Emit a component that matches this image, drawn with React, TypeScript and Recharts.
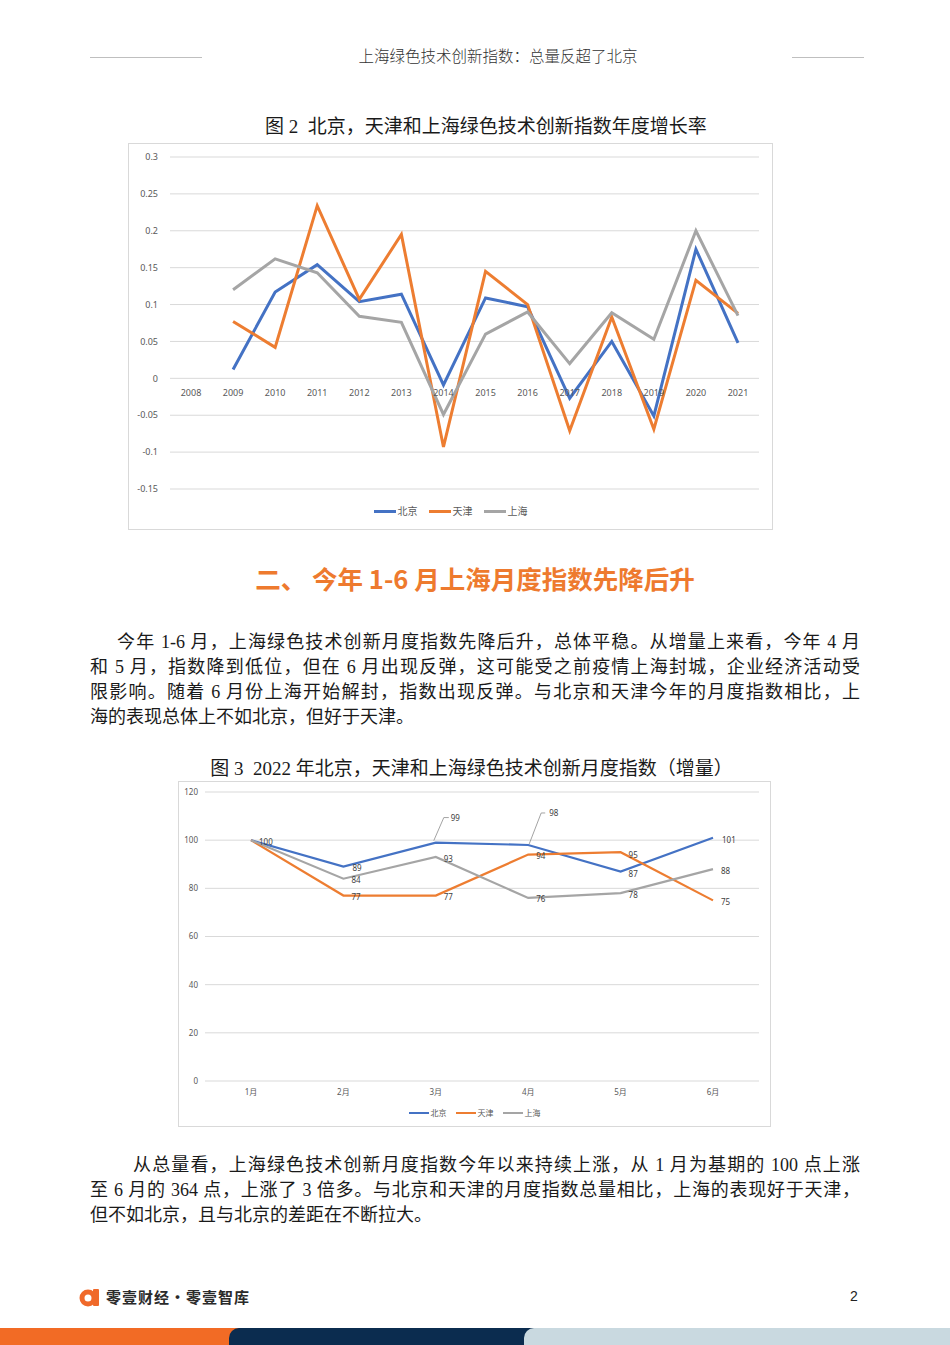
import { CartesianGrid, Legend, Line, LineChart, XAxis, YAxis } from "recharts";

// 图 2：年度增长率
const YEARS = ["2008", "2009", "2010", "2011", "2012", "2013", "2014", "2015", "2016", "2017", "2018", "2019", "2020", "2021"];
const BEIJING_GROWTH = [null, 0.012, 0.117, 0.154, 0.104, 0.114, -0.009, 0.109, 0.097, -0.027, 0.05, -0.051, 0.175, 0.048];
const TIANJIN_GROWTH = [null, 0.077, 0.042, 0.234, 0.107, 0.195, -0.093, 0.145, 0.1, -0.071, 0.083, -0.069, 0.133, 0.088];
const SHANGHAI_GROWTH = [null, 0.12, 0.162, 0.143, 0.084, 0.076, -0.049, 0.06, 0.09, 0.02, 0.089, 0.053, 0.2, 0.085];
const GROWTH_TICKS = [0.3, 0.25, 0.2, 0.15, 0.1, 0.05, 0, -0.05, -0.1, -0.15];

// 图 3：2022 年月度指数（增量）
const MONTHS = ["1月", "2月", "3月", "4月", "5月", "6月"];
const BEIJING_MONTHLY = [100, 89, 99, 98, 87, 101];
const TIANJIN_MONTHLY = [100, 77, 77, 94, 95, 75];
const SHANGHAI_MONTHLY = [100, 84, 93, 76, 78, 88];
const MONTHLY_TICKS = [0, 20, 40, 60, 80, 100, 120];

const SERIES_NAMES = ["北京", "天津", "上海"];

const BLUE = "#4472C4";
const ORANGE = "#ED7D31";
const GRAY = "#A5A5A5";

const growthData = YEARS.map((year, i) => ({
  year,
  beijing: BEIJING_GROWTH[i],
  tianjin: TIANJIN_GROWTH[i],
  shanghai: SHANGHAI_GROWTH[i],
}));

const monthlyData = MONTHS.map((month, i) => ({
  month,
  beijing: BEIJING_MONTHLY[i],
  tianjin: TIANJIN_MONTHLY[i],
  shanghai: SHANGHAI_MONTHLY[i],
}));

// label placement (px offsets from the point), null = label hidden
type Place = { dx: number; dy: number; leader?: number[][] } | null;
const R: Place = { dx: 8, dy: 1 };
const BEIJING_PLACES: Place[] = [
  R,
  { dx: 9, dy: 1 },
  { dx: 15, dy: -25, leader: [[-2, -2], [8, -25], [13, -25]] },
  { dx: 21, dy: -32, leader: [[1, -1], [13, -32], [17, -32]] },
  { dx: 8, dy: 2 },
  { dx: 9, dy: 2 },
];
const TIANJIN_PLACES: Place[] = [null, R, R, R, { dx: 8, dy: 2 }, R];
const SHANGHAI_PLACES: Place[] = [null, R, R, R, R, R];

const PARA1 = [
  "今年 1-6 月，上海绿色技术创新月度指数先降后升，总体平稳。从增量上来看，今年 4 月",
  "和 5 月，指数降到低位，但在 6 月出现反弹，这可能受之前疫情上海封城，企业经济活动受",
  "限影响。随着 6 月份上海开始解封，指数出现反弹。与北京和天津今年的月度指数相比，上",
  "海的表现总体上不如北京，但好于天津。",
];
const PARA2 = [
  "从总量看，上海绿色技术创新月度指数今年以来持续上涨，从 1 月为基期的 100 点上涨",
  "至 6 月的 364 点，上涨了 3 倍多。与北京和天津的月度指数总量相比，上海的表现好于天津，",
  "但不如北京，且与北京的差距在不断拉大。",
];

const G_W = 643;
const G_H = 385;
const G_TOP = 13;
const G_PLOT_H = 332;
const G_ZERO_Y = G_TOP + (G_PLOT_H * 0.3) / 0.45;

function YearTick({ x, payload }: any) {
  return (
    <text x={x} y={G_ZERO_Y + 14} textAnchor="middle" dominantBaseline="central" fontSize={9} fill="#595959">
      {payload.value}
    </text>
  );
}

function makePointLabel(places: Place[]) {
  return function PointLabel(props: any) {
    const { x, y, value, index } = props;
    const p = places[index];
    if (!p || x == null || y == null) return <g />;
    return (
      <g>
        {p.leader && (
          <polyline
            points={p.leader.map(([a, b]) => `${x + a},${y + b}`).join(" ")}
            fill="none"
            stroke="#8c8c8c"
            strokeWidth={0.8}
          />
        )}
        <text x={x + p.dx} y={y + p.dy} dominantBaseline="central" fontSize={8} fill="#404040">
          {value}
        </text>
      </g>
    );
  };
}

function LegendRow({ payload, swatch, thick, fontSize, gap, height }: any) {
  const items = [...(payload ?? [])].sort(
    (a: any, b: any) => SERIES_NAMES.indexOf(a.value) - SERIES_NAMES.indexOf(b.value)
  );
  return (
    <div
      style={{
        height,
        boxSizing: "border-box",
        paddingBottom: 4,
        display: "flex",
        justifyContent: "center",
        alignItems: "center",
        gap,
      }}
    >
      {items.map((entry: any) => (
        <span key={entry.value} style={{ display: "inline-flex", alignItems: "center" }}>
          <span style={{ display: "inline-block", width: swatch, height: thick, background: entry.color, marginRight: 2 }} />
          <span style={{ fontSize, color: "#595959", lineHeight: 1 }}>{entry.value}</span>
        </span>
      ))}
    </div>
  );
}

function Lines({ lines, top, indent }: { lines: string[]; top: number; indent: number }) {
  return (
    <div style={{ position: "absolute", left: 90, top, width: 770, fontSize: 18, color: "#1a1a1a" }}>
      {lines.map((line, i) => {
        const last = i === lines.length - 1;
        return (
          <div
            key={i}
            style={{
              height: 25,
              lineHeight: "25px",
              paddingLeft: i === 0 ? indent : 0,
              textAlign: "justify",
              textAlignLast: last ? "left" : "justify",
              whiteSpace: last ? "nowrap" : "normal",
            }}
          >
            {line}
          </div>
        );
      })}
    </div>
  );
}

export default function App() {
  const serif = "'Liberation Serif', 'Noto Sans CJK SC', serif";
  const chartFont = "'Noto Sans', 'Noto Sans CJK SC', sans-serif";
  return (
    <div style={{ position: "absolute", left: 0, top: 0, width: 950, height: 1345, background: "#fff", fontFamily: serif, overflow: "hidden" }}>
      {/* header */}
      <div style={{ position: "absolute", left: 90, top: 57, width: 112, height: 1, background: "#bfbfbf" }} />
      <div style={{ position: "absolute", left: 792, top: 57, width: 72, height: 1, background: "#bfbfbf" }} />
      <div
        style={{
          position: "absolute",
          left: 0,
          width: 996,
          top: 45,
          textAlign: "center",
          fontSize: 15.5,
          lineHeight: "20px",
          color: "#333",
          fontFamily: "'Noto Sans CJK SC', sans-serif",
          fontWeight: 300,
        }}
      >
        上海绿色技术创新指数：总量反超了北京
      </div>

      {/* figure 2 */}
      <div style={{ position: "absolute", left: 0, width: 972, top: 115, textAlign: "center", fontSize: 19, lineHeight: "24px", color: "#1a1a1a" }}>
        图 2 &nbsp;北京，天津和上海绿色技术创新指数年度增长率
      </div>
      <div
        style={{
          position: "absolute",
          left: 128,
          top: 143,
          width: 645,
          height: 387,
          boxSizing: "border-box",
          border: "1px solid #d9d9d9",
          fontFamily: chartFont,
        }}
      >
        <LineChart width={G_W} height={G_H} data={growthData} margin={{ top: G_TOP, right: 13, left: 0, bottom: 0 }}>
          <CartesianGrid vertical={false} stroke="#d9d9d9" />
          <XAxis
            dataKey="year"
            height={8}
            axisLine={false}
            tickLine={false}
            interval={0}
            padding={{ left: 21, right: 21 }}
            tick={<YearTick />}
          />
          <YAxis
            width={41}
            domain={[-0.15, 0.3]}
            ticks={GROWTH_TICKS}
            axisLine={false}
            tickLine={false}
            tickMargin={6}
            tick={{ fontSize: 9, fill: "#595959" }}
            tickFormatter={(v: number) => String(v)}
          />
          <Legend
            verticalAlign="bottom"
            wrapperStyle={{ left: 0, width: G_W }}
            content={(props: any) => <LegendRow {...props} swatch={22} thick={3} fontSize={10} gap={11} height={32} />}
          />
          <Line dataKey="beijing" name="北京" stroke={BLUE} strokeWidth={3} dot={false} isAnimationActive={false} />
          <Line dataKey="tianjin" name="天津" stroke={ORANGE} strokeWidth={3} dot={false} isAnimationActive={false} />
          <Line dataKey="shanghai" name="上海" stroke={GRAY} strokeWidth={3} dot={false} isAnimationActive={false} />
        </LineChart>
      </div>

      {/* section heading */}
      <div
        style={{
          position: "absolute",
          left: 0,
          width: 950,
          top: 561,
          textAlign: "center",
          fontSize: 25.5,
          lineHeight: "34px",
          fontWeight: 700,
          color: "#EE7A2E",
          fontFamily: "'Noto Sans CJK SC', sans-serif",
        }}
      >
        二、 今年 1-6 月上海月度指数先降后升
      </div>

      <Lines lines={PARA1} top={630} indent={27} />

      {/* figure 3 */}
      <div style={{ position: "absolute", left: 0, width: 943, top: 757, textAlign: "center", fontSize: 19, lineHeight: "24px", color: "#1a1a1a" }}>
        图 3 &nbsp;2022 年北京，天津和上海绿色技术创新月度指数（增量）
      </div>
      <div
        style={{
          position: "absolute",
          left: 178,
          top: 781,
          width: 593,
          height: 346,
          boxSizing: "border-box",
          border: "1px solid #d9d9d9",
          fontFamily: chartFont,
        }}
      >
        <LineChart width={591} height={344} data={monthlyData} margin={{ top: 10, right: 11, left: 0, bottom: 0 }}>
          <CartesianGrid vertical={false} stroke="#d9d9d9" />
          <XAxis
            dataKey="month"
            height={23}
            axisLine={false}
            tickLine={false}
            interval={0}
            padding={{ left: 46, right: 46 }}
            tick={{ fontSize: 8, fill: "#595959" }}
          />
          <YAxis
            width={26}
            domain={[0, 120]}
            ticks={MONTHLY_TICKS}
            axisLine={false}
            tickLine={false}
            tickMargin={1}
            tick={{ fontSize: 8, fill: "#595959" }}
          />
          <Legend
            verticalAlign="bottom"
            wrapperStyle={{ left: 0, width: 591 }}
            content={(props: any) => <LegendRow {...props} swatch={20} thick={2} fontSize={8} gap={9} height={22} />}
          />
          <Line dataKey="beijing" name="北京" stroke={BLUE} strokeWidth={2.2} dot={false} isAnimationActive={false} label={makePointLabel(BEIJING_PLACES)} />
          <Line dataKey="tianjin" name="天津" stroke={ORANGE} strokeWidth={2.2} dot={false} isAnimationActive={false} label={makePointLabel(TIANJIN_PLACES)} />
          <Line dataKey="shanghai" name="上海" stroke={GRAY} strokeWidth={2.2} dot={false} isAnimationActive={false} label={makePointLabel(SHANGHAI_PLACES)} />
        </LineChart>
      </div>

      <Lines lines={PARA2} top={1153} indent={43} />

      {/* footer */}
      <svg style={{ position: "absolute", left: 79, top: 1287 }} width={22} height={21}>
        <circle cx={9} cy={11} r={6} fill="none" stroke="#F0692A" strokeWidth={5} />
        <rect x={14} y={2} width={6} height={17} rx={1} fill="#F0692A" />
      </svg>
      <div
        style={{
          position: "absolute",
          left: 106,
          top: 1287,
          fontSize: 15,
          lineHeight: "20px",
          fontWeight: 700,
          letterSpacing: 1,
          color: "#2a2a2a",
          fontFamily: "'Noto Sans CJK SC', sans-serif",
        }}
      >
        零壹财经·零壹智库
      </div>
      <div style={{ position: "absolute", left: 850, top: 1286, fontSize: 14, lineHeight: "20px", color: "#222", fontFamily: "'Liberation Sans', sans-serif" }}>
        2
      </div>
      <div style={{ position: "absolute", left: 0, top: 1328, width: 260, height: 17, background: "#F26B25" }} />
      <div style={{ position: "absolute", left: 229, top: 1328, width: 320, height: 17, background: "#0B2C4F", borderTopLeftRadius: 10 }} />
      <div style={{ position: "absolute", left: 524, top: 1328, width: 426, height: 17, background: "#C9D9E0", borderTopLeftRadius: 10 }} />
    </div>
  );
}
